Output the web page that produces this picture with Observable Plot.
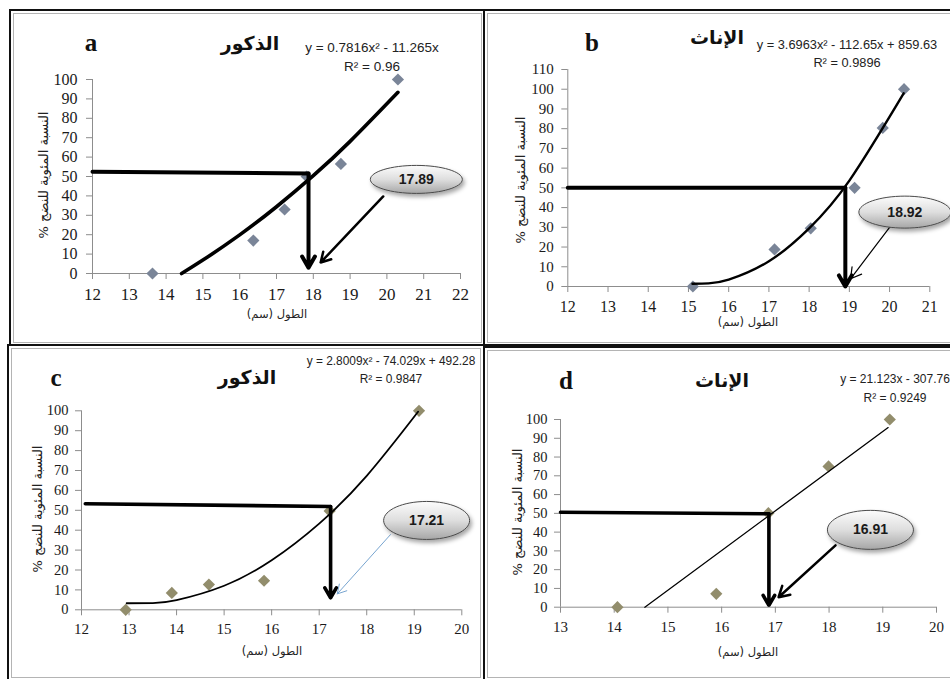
<!DOCTYPE html>
<html><head><meta charset="utf-8">
<script src="https://cdn.jsdelivr.net/npm/d3@7"></script>
<script src="https://cdn.jsdelivr.net/npm/@observablehq/plot@0.6"></script>
<style>
body{margin:0;background:#fff;}
#wrap{position:relative;width:950px;height:679px;overflow:hidden;background:#fff;}
.lbl{position:absolute;white-space:nowrap;transform:translate(-50%,-50%);line-height:1;color:#111;z-index:3;}
.box{position:absolute;box-sizing:border-box;border:2px solid #111;pointer-events:none;z-index:6;}
.inner{position:absolute;box-sizing:border-box;border:1px solid #b4b4b4;pointer-events:none;z-index:5;}
</style></head><body><div id="wrap"></div>
<script>
// ---------- shared texts ----------
const yLabel = "النسبة المئوية للنضج %";
const xLabel = "الطول (سم)";
const yTicks100 = [0, 10, 20, 30, 40, 50, 60, 70, 80, 90, 100];
const yTicks110 = [0, 10, 20, 30, 40, 50, 60, 70, 80, 90, 100, 110];

// ---------- panel a : الذكور ----------
const aTitle = "الذكور", aEq = "y = 0.7816x² - 11.265x", aR2 = "R² = 0.96";
const aXTicks = [12, 13, 14, 15, 16, 17, 18, 19, 20, 21, 22];
const aLength = [13.63, 16.37, 17.22, 17.82, 18.75, 20.30];
const aMature = [0, 17, 33, 50, 56.5, 100];
const aFitLength = [14.42, 15, 16, 17, 18, 19, 20.3];
const aFitMature = [0, 6.9, 19.9, 34.4, 50.4, 68.1, 93.4];
const aGuideLength = [12, 17.87];
const aGuideMature = [52.5, 51.5];
const aDropEnd = 3;
const aL50 = "17.89";
const aNoteLength = 20.8, aNoteMature = 48.5;
const aPointerLength = [19.9, 18.2], aPointerMature = [39.7, 5.7];

// ---------- panel b : الإناث ----------
const bTitle = "الإناث", bEq = "y = 3.6963x² - 112.65x + 859.63", bR2 = "R² = 0.9896";
const bXTicks = [12, 13, 14, 15, 16, 17, 18, 19, 20, 21];
const bLength = [15.11, 17.14, 18.04, 19.13, 19.83, 20.36];
const bMature = [0, 18.8, 29.5, 50, 80.4, 100];
const bFitLength = [15.1, 15.5, 16, 17, 18, 19, 20.35];
const bFitMature = [1.4, 1.6, 3.5, 12.8, 29.5, 53.7, 97.9];
const bGuideLength = [12, 18.9];
const bGuideMature = [50, 50];
const bDropEnd = 0;
const bL50 = "18.92";
const bNoteLength = 20.38, bNoteMature = 37.7;
const bPointerLength = [20.0, 19.03], bPointerMature = [30, 3.9];

// ---------- panel c : الذكور ----------
const cTitle = "الذكور", cEq = "y = 2.8009x² - 74.029x + 492.28", cR2 = "R² = 0.9847";
const cXTicks = [12, 13, 14, 15, 16, 17, 18, 19, 20];
const cLength = [12.93, 13.9, 14.68, 15.84, 17.22, 19.1];
const cMature = [0, 8.5, 12.7, 14.6, 49.7, 100];
const cFitLength = [12.95, 13.5, 14, 15, 16, 17, 18, 19.08];
const cFitMature = [3.3, 3.4, 4.9, 12.1, 24.9, 43.3, 67.3, 99.5];
const cGuideLength = [12.08, 17.24];
const cGuideMature = [53.3, 51.9];
const cDropEnd = 6;
const cL50 = "17.21";
const cNoteLength = 19.26, cNoteMature = 44.9;
const cPointerLength = [18.5, 17.38], cPointerMature = [37.8, 8];

// ---------- panel d : الإناث ----------
const dTitle = "الإناث", dEq = "y = 21.123x - 307.76", dR2 = "R² = 0.9249";
const dXTicks = [13, 14, 15, 16, 17, 18, 19, 20];
const dLength = [14.06, 15.9, 16.87, 17.99, 19.13];
const dMature = [0, 7.1, 50.1, 75, 100];
const dFitLength = [14.57, 19.1];
const dFitMature = [0, 95.7];
const dGuideLength = [13, 16.88];
const dGuideMature = [50.6, 49.8];
const dDropEnd = 1;
const dL50 = "16.91";
const dNoteLength = 18.77, dNoteMature = 41.2;
const dPointerLength = [18.12, 17.06], dPointerMature = [32.9, 5.3];

const wrap = document.getElementById("wrap");

function label(text, x, y, css, rotate) {
  const d = document.createElement("div");
  d.className = "lbl";
  d.textContent = text;
  d.style.left = x + "px";
  d.style.top = y + "px";
  Object.assign(d.style, css);
  if (rotate) d.style.transform = "translate(-50%,-50%) rotate(-90deg)";
  if (/[\u0600-\u06FF]/.test(text)) d.dir = "rtl";
  wrap.appendChild(d);
}

function rows(xs, ys) { return xs.map((x, i) => ({x, y: ys[i]})); }

function build(p) {
  const pts = rows(p.len, p.mat);
  const fit = rows(p.fitLen, p.fitMat);
  const guide = rows(p.gLen, p.gMat);
  const drop = [{x1: p.gLen[1], y1: p.gMat[1], x2: p.gLen[1], y2: p.dropEnd}];
  const pointer = [{x1: p.ptrLen[0], y1: p.ptrMat[0], x2: p.ptrLen[1], y2: p.ptrMat[1]}];
  const note = [{x: p.noteLen, y: p.noteMat, t: p.l50}];
  const [rx, ry] = p.ell;
  const k = 0.5523;
  const ellipse = {draw(c) {
    c.moveTo(rx, 0);
    c.bezierCurveTo(rx, ry * k, rx * k, ry, 0, ry);
    c.bezierCurveTo(-rx * k, ry, -rx, ry * k, -rx, 0);
    c.bezierCurveTo(-rx, -ry * k, -rx * k, -ry, 0, -ry);
    c.bezierCurveTo(rx * k, -ry, rx, -ry * k, rx, 0);
    c.closePath();
  }};
  const axisGray = "#8d8d8d";
  const svg = Plot.plot({
    width: p.W, height: p.H,
    marginLeft: p.m[0], marginRight: p.m[1], marginTop: p.m[2], marginBottom: p.m[3],
    x: {domain: [p.xTicks[0], p.xTicks[p.xTicks.length - 1]]},
    y: {domain: [p.yTicks[0], p.yTicks[p.yTicks.length - 1]]},
    style: {background: "transparent", fontFamily: "'Liberation Serif', 'DejaVu Serif', serif", color: "#1e1e1e", overflow: "visible"},
    marks: [
      Plot.ruleY([p.yTicks[0]], {stroke: axisGray}),
      Plot.ruleX([p.xTicks[0]], {stroke: axisGray}),
      Plot.axisX({ticks: p.xTicks, tickSize: 6, tickPadding: 8, stroke: axisGray, fill: "#1a1a1a", fontSize: p.fx, label: null, tickFormat: d => String(d)}),
      Plot.axisY({ticks: p.yTicks, tickSize: 6, tickPadding: p.ypad, stroke: axisGray, fill: "#1a1a1a", fontSize: p.fy, label: null, tickFormat: d => String(d)}),
      Plot.dot(pts, {x: "x", y: "y", symbol: "diamond2", r: p.r, fill: p.marker}),
      Plot.line(fit, {x: "x", y: "y", curve: "natural", stroke: "#000", strokeWidth: p.fitW}),
      Plot.line(guide, {x: "x", y: "y", stroke: "#000", strokeWidth: p.gW}),
      Plot.arrow(drop, {x1: "x1", y1: "y1", x2: "x2", y2: "y2", stroke: "#000", strokeWidth: p.gW, headLength: 4.8, headAngle: 60}),
      Plot.arrow(pointer, {x1: "x1", y1: "y1", x2: "x2", y2: "y2", stroke: p.ptrColor, strokeWidth: p.ptrW, headLength: p.ptrHead, headAngle: 60}),
      Plot.dot(note, {x: "x", y: "y", symbol: ellipse, r: 10, fill: `url(#grad-${p.id})`, stroke: "#4a4a4a", strokeWidth: 1}),
      Plot.text(note, {x: "x", y: "y", text: "t", fontFamily: "'Liberation Sans', sans-serif", fontWeight: "bold", fontSize: 14, fill: "#1a1a1a"})
    ]
  });
  const defs = d3.select(svg).insert("defs", ":first-child");
  const g = defs.append("linearGradient").attr("id", `grad-${p.id}`)
    .attr("x1", 0).attr("y1", 0).attr("x2", 0).attr("y2", 1);
  g.append("stop").attr("offset", "0%").attr("stop-color", "#fcfcfc");
  g.append("stop").attr("offset", "50%").attr("stop-color", "#dedede");
  g.append("stop").attr("offset", "100%").attr("stop-color", "#a6a6a6");
  const f = defs.append("filter").attr("id", `sh-${p.id}`).attr("x", "-30%").attr("y", "-30%").attr("width", "160%").attr("height", "180%");
  f.append("feDropShadow").attr("dx", 2).attr("dy", 3).attr("stdDeviation", 2).attr("flood-opacity", 0.35);
  d3.select(svg).selectAll(`path[fill="url(#grad-${p.id})"], g[fill="url(#grad-${p.id})"]`).attr("filter", `url(#sh-${p.id})`);
  svg.style.position = "absolute";
  svg.style.left = p.L + "px";
  svg.style.top = p.T + "px";
  svg.style.zIndex = 2;
  wrap.appendChild(svg);
}

build({id: "a", L: 10, T: 10, W: 474, H: 335, m: [82, 24, 69, 72],
  xTicks: aXTicks, yTicks: yTicks100, fx: 17, fy: 16, ypad: 9,
  len: aLength, mat: aMature, fitLen: aFitLength, fitMat: aFitMature, fitW: 3.6,
  gLen: aGuideLength, gMat: aGuideMature, gW: 4, dropEnd: aDropEnd,
  l50: aL50, noteLen: aNoteLength, noteMat: aNoteMature, ell: [46, 14],
  ptrLen: aPointerLength, ptrMat: aPointerMature, ptrColor: "#000", ptrW: 2.5, ptrHead: 6.6,
  r: 5.5, marker: "#7a8598"});

build({id: "b", L: 484, T: 10, W: 466, H: 335, m: [83.3, 20.7, 59, 59],
  xTicks: bXTicks, yTicks: yTicks110, fx: 16, fy: 15, ypad: 8,
  len: bLength, mat: bMature, fitLen: bFitLength, fitMat: bFitMature, fitW: 2.4,
  gLen: bGuideLength, gMat: bGuideMature, gW: 4, dropEnd: bDropEnd,
  l50: bL50, noteLen: bNoteLength, noteMat: bNoteMature, ell: [46, 16],
  ptrLen: bPointerLength, ptrMat: bPointerMature, ptrColor: "#000", ptrW: 1.2, ptrHead: 15,
  r: 5.5, marker: "#7a8598"});

build({id: "c", L: 8, T: 345, W: 476, H: 334, m: [73, 22.7, 65.3, 69.7],
  xTicks: cXTicks, yTicks: yTicks100, fx: 15, fy: 14.5, ypad: 7,
  len: cLength, mat: cMature, fitLen: cFitLength, fitMat: cFitMature, fitW: 1.8,
  gLen: cGuideLength, gMat: cGuideMature, gW: 3.6, dropEnd: cDropEnd,
  l50: cL50, noteLen: cNoteLength, noteMat: cNoteMature, ell: [43, 19],
  ptrLen: cPointerLength, ptrMat: cPointerMature, ptrColor: "#78a5d0", ptrW: 1, ptrHead: 15,
  r: 5.5, marker: "#928d6c"});

build({id: "d", L: 484, T: 347, W: 466, H: 332, m: [76, 14, 72, 72.3],
  xTicks: dXTicks, yTicks: yTicks100, fx: 15, fy: 14.5, ypad: 7,
  len: dLength, mat: dMature, fitLen: dFitLength, fitMat: dFitMature, fitW: 1.3,
  gLen: dGuideLength, gMat: dGuideMature, gW: 3.6, dropEnd: dDropEnd,
  l50: dL50, noteLen: dNoteLength, noteMat: dNoteMature, ell: [43, 19.5],
  ptrLen: dPointerLength, ptrMat: dPointerMature, ptrColor: "#000", ptrW: 2.5, ptrHead: 7.2,
  r: 5.5, marker: "#928d6c"});

// ---------- text overlays ----------
const letterCss = {fontFamily: "'Liberation Serif', serif", fontWeight: "bold", fontSize: "25px"};
const titleCss = {fontFamily: "'DejaVu Sans', sans-serif", fontWeight: "bold", fontSize: "19px"};
const eq = s => ({fontFamily: "'Liberation Sans', sans-serif", fontSize: s + "px", color: "#222"});
const axCss = {fontFamily: "'DejaVu Sans', sans-serif", fontSize: "13px", color: "#222"};
const xCss = {fontFamily: "'DejaVu Sans', sans-serif", fontSize: "11.5px", color: "#222"};

label("a", 91, 42, letterCss);
label(aTitle, 250, 43, titleCss);
label(aEq, 372, 48, eq(13.5));
label(aR2, 372, 67, eq(13.5));
label(yLabel, 43, 175, axCss, true);
label(xLabel, 277, 315, xCss);

label("b", 592, 42, letterCss);
label(bTitle, 717, 37, titleCss);
label(bEq, 847, 45, eq(12.8));
label(bR2, 847, 63, eq(12.8));
label(yLabel, 520, 180, axCss, true);
label(xLabel, 748, 323, xCss);

label("c", 56, 377, letterCss);
label(cTitle, 247, 377, titleCss);
label(cEq, 391, 362, eq(11.9));
label(cR2, 391, 380, eq(11.9));
label(yLabel, 37, 509, axCss, true);
label(xLabel, 272, 652, xCss);

label("d", 566, 380, letterCss);
label(dTitle, 722, 380, titleCss);
label(dEq, 895, 379, eq(12));
label(dR2, 895, 398, eq(12));
label(yLabel, 517, 512, axCss, true);
label(xLabel, 748, 653, xCss);

// ---------- panel frames ----------
function frame(cls, l, t, w, h) {
  const d = document.createElement("div");
  d.className = cls;
  Object.assign(d.style, {left: l + "px", top: t + "px", width: w + "px", height: h + "px"});
  wrap.appendChild(d);
}
frame("box", 9, 9, 476, 337);
frame("box", 483, 9, 470, 337);
frame("box", 7, 344, 478, 340);
frame("box", 483, 346, 470, 338);
frame("inner", 13, 13, 469, 330);
frame("inner", 487, 13, 470, 330);
frame("inner", 11, 348, 470, 330);
frame("inner", 487, 350, 470, 328);
</script></body></html>
